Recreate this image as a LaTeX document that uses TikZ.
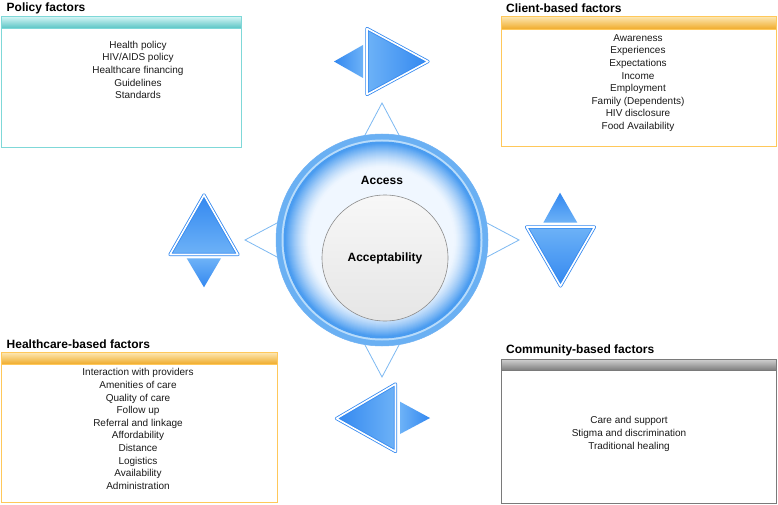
\documentclass[tikz,border=0pt]{standalone}
\usepackage{fontspec}
\setmainfont{Liberation Sans}
\definecolor{tealline}{HTML}{7FD8D8}
\definecolor{tealtop}{HTML}{D2F4F4}
\definecolor{tealbot}{HTML}{5CC6C6}
\definecolor{orgline}{HTML}{FFC85A}
\definecolor{orgtop}{HTML}{FCE6B0}
\definecolor{orgbot}{HTML}{F0AC2C}
\definecolor{gryline}{HTML}{7A7A7A}
\definecolor{grytop}{HTML}{D0D0D0}
\definecolor{grybot}{HTML}{7A7A7A}
\definecolor{bdark}{HTML}{3388F0}
\definecolor{blight}{HTML}{6DB2F7}
\definecolor{starline}{HTML}{7DB9F2}
\definecolor{ringblue}{HTML}{4A9CF0}
\definecolor{ringouter}{HTML}{6AB0F3}
\definecolor{ringpale}{HTML}{B8DCFB}
\definecolor{ringin}{HTML}{F0F7FF}
\definecolor{txt}{HTML}{1A1A1A}
\tikzset{
  title/.style={font=\fontsize{12}{14}\bfseries\selectfont, anchor=west, inner sep=0pt, text=black},
  body/.style={font=\fontsize{10}{12.6}\selectfont, align=center, inner sep=0pt, text=txt},
  bigtri/.style={draw=bdark, line width=0.8pt, double=white, double distance=1.6pt, line join=round},
}
\begin{document}
\begin{tikzpicture}[x=1pt, y=-1pt]
\useasboundingbox (0,0) rectangle (778,505);
\fill[white] (0,0) rectangle (778,505);

% star outline behind circle
\draw[starline, line width=0.8pt, fill=white]
  (382,103) -- (429.5,192.5) -- (519,240) -- (429.5,287.5) -- (382,377)
  -- (334.5,287.5) -- (245,240) -- (334.5,192.5) -- cycle;

% outer ring
\fill[ringouter] (382,240) circle[radius=106pt];
\draw[ringblue!80!white, line width=0.5pt] (382,240) circle[radius=106pt];
\fill[ringpale] (382,240) circle[radius=100.5pt];
\fill[ringblue] (382,240) circle[radius=98.5pt];
\foreach \i in {0,...,25}{
  \pgfmathsetmacro{\rr}{97-\i}
  \pgfmathtruncatemacro{\pp}{100*(1-\i/25)^1.4}
  \fill[ringblue!\pp!ringin] (382,240) circle[radius=\rr pt];
}
\node[font=\fontsize{12}{14}\bfseries\selectfont, inner sep=0pt] (access) at (382,180) {Access};
\node[circle, draw=black!45, line width=0.6pt, minimum size=126pt, inner sep=0pt,
      top color=white!97!black, bottom color=white!90!black,
      font=\fontsize{12}{14}\bfseries\selectfont] (accept) at (385,258) {Acceptability};

% arrow pairs
% top
\shade[bigtri, left color=blight, right color=bdark] (367,28.5) -- (367,94.5) -- (428,61.5) -- cycle;
\shade[left color=bdark, right color=blight] (363,45) -- (363,78) -- (334,61.5) -- cycle;
% bottom
\shade[bigtri, left color=bdark, right color=blight] (395.5,384) -- (395.5,451.5) -- (336.5,418.5) -- cycle;
\shade[left color=blight, right color=bdark] (400,401.7) -- (400,434) -- (430,418) -- cycle;
% left
\shade[bigtri, top color=bdark, bottom color=blight] (204,195) -- (170,254.5) -- (238,254.5) -- cycle;
\shade[top color=blight, bottom color=bdark] (186.7,258.3) -- (221,258.3) -- (204,287.3) -- cycle;
% right
\shade[top color=bdark, bottom color=blight] (560,192.7) -- (543.3,222.7) -- (577.3,222.7) -- cycle;
\shade[bigtri, top color=blight, bottom color=bdark] (526.5,227) -- (594.5,227) -- (560.5,286) -- cycle;

% Policy factors
\node[title] (ptitle) at (6.5,8.5) {Policy factors};
\shade[top color=tealtop, bottom color=tealbot] (1,16.7) rectangle (241,28);
\draw[tealline, line width=1pt] (1,16.7) rectangle (241,148);
\draw[tealline, line width=0.6pt] (1,28) -- (241,28);
\node[body] (pbody) at (138,70) {Health policy\\HIV/AIDS policy\\Healthcare financing\\Guidelines\\Standards};

% Client-based factors
\node[title] (ctitle) at (506,8.5) {Client-based factors};
\shade[top color=orgtop, bottom color=orgbot] (501,16.7) rectangle (776,29);
\draw[orgline, line width=1pt] (501,16.7) rectangle (776,147);
\draw[orgline, line width=0.6pt] (501,29) -- (776,29);
\node[body] (cbody) at (638,83) {Awareness\\Experiences\\Expectations\\Income\\Employment\\Family (Dependents)\\HIV disclosure\\Food Availability};

% Healthcare-based factors
\node[title] (htitle) at (6.5,344.5) {Healthcare-based factors};
\shade[top color=orgtop, bottom color=orgbot] (1,352.7) rectangle (277,364);
\draw[orgline, line width=1pt] (1,352.7) rectangle (277,502.7);
\draw[orgline, line width=0.6pt] (1,364) -- (277,364);
\node[body] (hbody) at (138,429) {Interaction with providers\\Amenities of care\\Quality of care\\Follow up\\Referral and linkage\\Affordability\\Distance\\Logistics\\Availability\\Administration};

% Community-based factors
\node[title] (mtitle) at (506,350.5) {Community-based factors};
\shade[top color=grytop, bottom color=grybot] (501,359.3) rectangle (776,370.7);
\draw[gryline, line width=1pt] (501,359.3) rectangle (776,503.3);
\draw[gryline, line width=0.6pt] (501,370.7) -- (776,370.7);
\node[body] (mbody) at (629,434) {Care and support\\Stigma and discrimination\\Traditional healing};
\end{tikzpicture}
\end{document}
